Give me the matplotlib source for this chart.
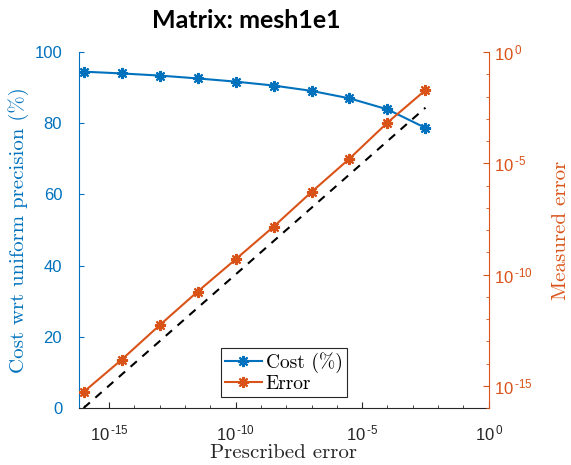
import numpy as np
import matplotlib
matplotlib.use("Agg")
import matplotlib.pyplot as plt
from matplotlib.ticker import LogLocator, FixedLocator, MultipleLocator, FuncFormatter, NullFormatter

plt.rcParams['mathtext.fontset'] = 'custom'
plt.rcParams['mathtext.rm'] = 'Liberation Sans'
plt.rcParams['mathtext.it'] = 'Liberation Sans:italic'
plt.rcParams['font.family'] = ['Liberation Sans', 'DejaVu Sans']

# prescribed error (log10) and results
prescribed_log = [-16, -14.5, -13, -11.5, -10, -8.5, -7, -5.5, -4, -2.5]
cost_pct = [94.5, 94.0, 93.4, 92.6, 91.7, 90.6, 89.1, 87.0, 83.9, 78.7]
error_log = [-15.28, -13.83, -12.28, -10.77, -9.32, -7.85, -6.29, -4.79, -3.17, -1.71]

blue = '#0072BD'
orange = '#D95319'

prescribed = 10.0 ** np.array(prescribed_log)
measured = 10.0 ** np.array(error_log)

fig = plt.figure(figsize=(5.71, 4.65), dpi=100)
ax1 = fig.add_axes([0.138, 0.1226, 0.718, 0.7654])
ax2 = ax1.twinx()

asterisk = (8, 2, 0)

l1, = ax1.plot(prescribed, cost_pct, color=blue, lw=1.5, marker=asterisk,
               markersize=8, markeredgewidth=1.5, label='Cost (%)')
ax2.plot(prescribed, prescribed, color='k', lw=1.5, ls=(0, (4, 3.5)))
l2, = ax2.plot(prescribed, measured, color=orange, lw=1.5, marker=asterisk,
               markersize=8, markeredgewidth=1.5, label='Error')

ax1.set_xscale('log')
ax1.set_xlim(10 ** -16.19, 1)
ax1.set_ylim(0, 100)
ax2.set_yscale('log')
ax2.set_ylim(1e-16, 1)

ax1.yaxis.set_major_locator(MultipleLocator(20))
ax1.xaxis.set_major_locator(FixedLocator([1e-15, 1e-10, 1e-5, 1e0]))
ax1.xaxis.set_minor_locator(LogLocator(base=10, subs=(1.0,), numticks=40))
ax1.xaxis.set_minor_formatter(NullFormatter())
ax2.yaxis.set_major_locator(FixedLocator([1e-15, 1e-10, 1e-5, 1e0]))
ax2.yaxis.set_minor_locator(LogLocator(base=10, subs=(1.0,), numticks=40))
ax2.yaxis.set_minor_formatter(NullFormatter())


def pow_label(v, p):
    e = round(np.log10(v))
    s = str(abs(e))
    if e < 0:
        s = '\u2010' + s
    return r'$10^{\,%s}$' % s


fmt = FuncFormatter(pow_label)
ax1.xaxis.set_major_formatter(fmt)
ax2.yaxis.set_major_formatter(fmt)

for ax in (ax1, ax2):
    ax.spines['top'].set_visible(False)
ax2.spines['left'].set_visible(False)
ax2.spines['bottom'].set_visible(False)
ax1.spines['right'].set_visible(False)
ax1.spines['left'].set_color(blue)
ax2.spines['right'].set_color(orange)
ax1.spines['bottom'].set_color('#262626')

ax1.tick_params(axis='y', which='both', direction='in', colors=blue, labelsize=12, pad=12)
ax1.tick_params(axis='x', which='both', direction='in', colors='#262626', labelsize=12, pad=11)
ax1.tick_params(axis='x', which='major', length=4)
ax1.tick_params(axis='x', which='minor', length=2.5)
ax2.tick_params(axis='y', which='both', direction='in', colors=orange, labelsize=12)
ax2.tick_params(axis='y', which='major', length=4)
ax2.tick_params(axis='y', which='minor', length=2.5)

ax1.set_xlabel('Prescribed error', family='cmr10', fontsize=15, color='#262626', labelpad=1)
ax1.set_ylabel('Cost wrt uniform precision (%)', family='cmr10', fontsize=15, color=blue)
ax2.set_ylabel('Measured error', family='cmr10', fontsize=15, color=orange, labelpad=14)

fig.text(246 / 571, 1 - 20 / 465, 'Matrix: mesh1e1', family='Lato', fontweight='bold',
         fontsize=18, ha='center', va='center')

leg = ax2.legend([l1, l2], ['Cost (%)', 'Error'], loc='lower center',
                 bbox_to_anchor=(0.5, 0.015), prop={'family': 'cmr10', 'size': 14},
                 fancybox=False, edgecolor='#262626', framealpha=1,
                 handlelength=1.9, borderpad=0.2, labelspacing=0.1, handletextpad=0.2,
                 borderaxespad=0.3)
leg.get_frame().set_linewidth(0.8)

fig.savefig('out.png', dpi=100)
